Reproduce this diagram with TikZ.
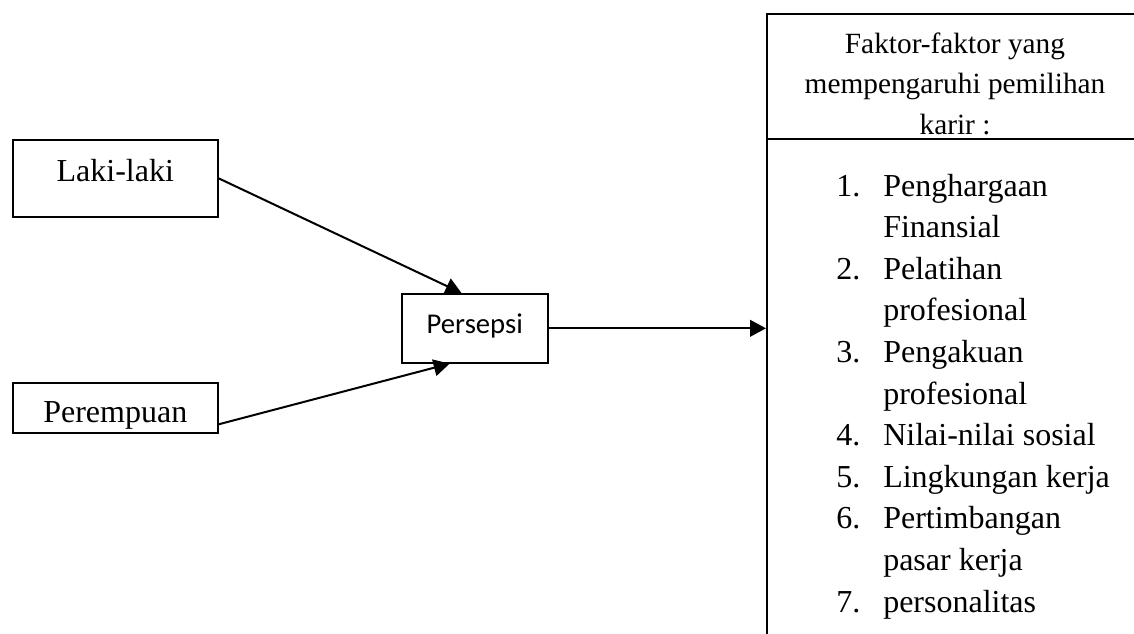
\documentclass[tikz,border=0pt]{standalone}
\usepackage{fontspec}
\setmainfont{Liberation Serif}
\newfontfamily\calib{Carlito}
\usetikzlibrary{arrows.meta,calc}
\begin{document}
\begin{tikzpicture}[x=0.75pt,y=-0.75pt,
  box/.style={draw=black,line width=1.2pt,inner sep=0pt,align=center},
  arr/.style={line width=1.5pt,-{Triangle[length=12pt,width=12.5pt]}},
  big/.style={font=\fontsize{24}{31.2}\selectfont},
]
\useasboundingbox (0,0) rectangle (1134,633);
\node[box,big,anchor=north west,text width=153.75pt,text height=31.5pt,text depth=26.25pt] (laki) at (12,139) {Laki-laki};
\node[box,big,anchor=north west,text width=153.75pt,text height=30pt,text depth=7.5pt] (pere) at (12,382) {Perempuan};
\node[box,anchor=north west,text width=109.5pt,text height=30pt,text depth=21.75pt,font=\calib\fontsize{21.5}{26}\selectfont] (pers) at (401,293) {Persepsi};
\node[draw=black,line width=1.6pt,anchor=north west,inner sep=0pt,minimum width=283.5pt,minimum height=485.25pt] (fac) at (766,13) {};
\coordinate (divl) at (766,139);
\coordinate (divr) at (1144,139);
\draw[line width=1.6pt] (divl) -- (divr);
\node[anchor=base,align=center,inner sep=0pt,font=\fontsize{22}{30.4}\selectfont] (head) at (955,134.5) {Faktor-faktor yang\\mempengaruhi pemilihan\\karir :};
\node[anchor=base west,align=left,inner sep=0pt,big] (list) at (836,612) {%
\makebox[35.25pt][l]{1.}Penghargaan\\
\hspace*{35.25pt}Finansial\\
\makebox[35.25pt][l]{2.}Pelatihan\\
\hspace*{35.25pt}profesional\\
\makebox[35.25pt][l]{3.}Pengakuan\\
\hspace*{35.25pt}profesional\\
\makebox[35.25pt][l]{4.}Nilai-nilai sosial\\
\makebox[35.25pt][l]{5.}Lingkungan kerja\\
\makebox[35.25pt][l]{6.}Pertimbangan\\
\hspace*{35.25pt}pasar kerja\\
\makebox[35.25pt][l]{7.}personalitas};
\draw[arr] (laki.east) -- ($(pers.north west)!0.41!(pers.north east)$);
\draw[arr] ($(pere.north east)!0.82!(pere.south east)$) -- ($(pers.south west)!0.33!(pers.south east)$);
\draw[arr] (pers.east) -- (pers.east -| fac.west);
\end{tikzpicture}
\end{document}
